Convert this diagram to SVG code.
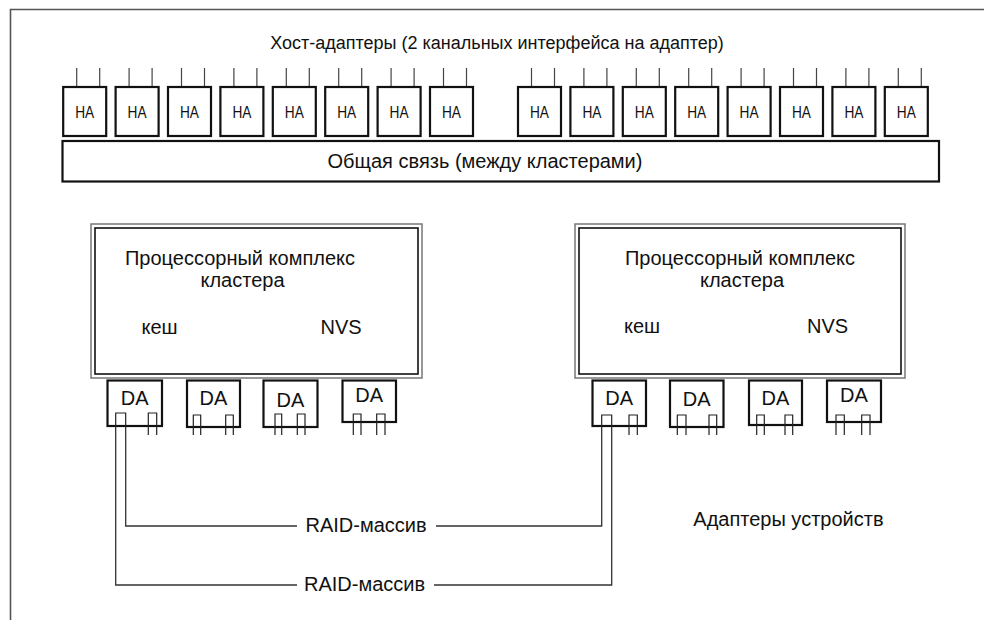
<svg xmlns="http://www.w3.org/2000/svg" width="984" height="620" viewBox="0 0 984 620">
<style>
text{font-family:"Liberation Sans",Arial,sans-serif;fill:#111}
.t20{font-size:20px}
.box{fill:#fff;stroke:#111;stroke-width:2.2}
.hat{font-size:17px;text-anchor:middle}
.da text{font-size:20px;text-anchor:middle}
.tick{stroke:#444;stroke-width:1.2;fill:none}
.port{stroke:#222;stroke-width:1.2;fill:none}
.conn{stroke:#333;stroke-width:1.3;fill:none}
</style>
<defs>
<g id="haShape">
<line class="tick" x1="13.5" y1="68" x2="13.5" y2="87"/>
<line class="tick" x1="36.5" y1="68" x2="36.5" y2="87"/>
<rect class="box" x="0" y="87" width="43" height="49"/>
<text class="hat" x="21.5" y="118" textLength="19" lengthAdjust="spacingAndGlyphs">HA</text>
</g>
</defs>
<g id="frame">
<path d="M10.5 620 V9.5 H984" fill="none" stroke="#555" stroke-width="1.6"/>
</g>
<g id="title"><text x="497" y="49" font-size="18" text-anchor="middle">Хост-адаптеры (2 канальных интерфейса на адаптер)</text></g>
<g id="host-adapters-left">
<use href="#haShape" x="63.2"/>
<use href="#haShape" x="115.6"/>
<use href="#haShape" x="168"/>
<use href="#haShape" x="220.4"/>
<use href="#haShape" x="272.8"/>
<use href="#haShape" x="325.2"/>
<use href="#haShape" x="377.6"/>
<use href="#haShape" x="430"/>
</g>
<g id="host-adapters-right">
<use href="#haShape" x="518"/>
<use href="#haShape" x="570.4"/>
<use href="#haShape" x="622.8"/>
<use href="#haShape" x="675.2"/>
<use href="#haShape" x="727.6"/>
<use href="#haShape" x="780"/>
<use href="#haShape" x="832.4"/>
<use href="#haShape" x="884.8"/>
</g>
<g id="interconnect">
<rect x="62.5" y="141" width="876.5" height="40.5" fill="#fff" stroke="#111" stroke-width="2.2"/>
<text class="t20" x="485" y="168" text-anchor="middle">Общая связь (между кластерами)</text>
</g>
<g id="cluster-left">
<rect x="91" y="224" width="331" height="154" fill="#fff" stroke="#777" stroke-width="1.5"/>
<rect x="95" y="228" width="323" height="146" fill="none" stroke="#111" stroke-width="1.6"/>
<text class="t20" x="240" y="265" text-anchor="middle">Процессорный комплекс</text>
<text class="t20" x="242.5" y="287" text-anchor="middle">кластера</text>
<text class="t20" x="141.5" y="334">кеш</text>
<text class="t20" x="320.5" y="334">NVS</text>
</g>
<g id="cluster-right">
<rect x="575" y="224" width="330" height="154" fill="#fff" stroke="#777" stroke-width="1.5"/>
<rect x="579" y="228" width="322" height="146" fill="none" stroke="#111" stroke-width="1.6"/>
<text class="t20" x="740" y="265" text-anchor="middle">Процессорный комплекс</text>
<text class="t20" x="742" y="287" text-anchor="middle">кластера</text>
<text class="t20" x="624" y="333">кеш</text>
<text class="t20" x="807" y="333">NVS</text>
</g>
<g id="da-left-1" class="da"><rect class="box" x="107.5" y="380.5" width="54.5" height="45.5"/><text x="134.7" y="405">DA</text><path class="port" d="M115.7 435 V413 H125.7 V435 M148.3 435 V413 H156.7 V435"/></g>
<g id="da-left-2" class="da"><rect class="box" x="187" y="380.5" width="53" height="46.5"/><text x="213.5" y="405">DA</text><path class="port" d="M193.3 435 V415 H200.7 V435 M225.7 435 V415 H233.3 V435"/></g>
<g id="da-left-3" class="da"><rect class="box" x="263.5" y="380.5" width="54" height="46.5"/><text x="290.5" y="406.5">DA</text><path class="port" d="M275 435 V414 H281.7 V435 M297.3 435 V414 H305 V435"/></g>
<g id="da-left-4" class="da"><rect class="box" x="342.5" y="380.5" width="53.5" height="41.5"/><text x="369.2" y="402.3">DA</text><path class="port" d="M353.3 435 V414 H361 V435 M376.7 435 V414 H385 V435"/></g>
<g id="da-right-1" class="da"><rect class="box" x="592.5" y="380.5" width="53.5" height="45.5"/><text x="619.2" y="405">DA</text><path class="port" d="M601.7 435 V415 H611.7 V435 M629 435 V415 H637.3 V435"/></g>
<g id="da-right-2" class="da"><rect class="box" x="670" y="380.5" width="53.5" height="46.5"/><text x="696.7" y="406">DA</text><path class="port" d="M677.3 435 V415 H686 V435 M709 435 V415 H716.7 V435"/></g>
<g id="da-right-3" class="da"><rect class="box" x="749" y="380.5" width="53" height="44.5"/><text x="775.5" y="405">DA</text><path class="port" d="M756.7 435 V415 H764.3 V435 M785 435 V415 H792.7 V435"/></g>
<g id="da-right-4" class="da"><rect class="box" x="827" y="380.5" width="54" height="41.5"/><text x="854" y="402.3">DA</text><path class="port" d="M836 435 V415 H844.3 V435 M861.7 435 V415 H870 V435"/></g>
<g id="connectors">
<path class="conn" d="M125.7 435 V526 H297 M436 526 H601.7 V435"/>
<path class="conn" d="M115.7 435 V585 H297 M434 585 H611.7 V435"/>
</g>
<g id="labels">
<text class="t20" x="366" y="532" text-anchor="middle">RAID-массив</text>
<text class="t20" x="364.5" y="591" text-anchor="middle">RAID-массив</text>
<text class="t20" x="693.3" y="526">Адаптеры устройств</text>
</g>
</svg>
